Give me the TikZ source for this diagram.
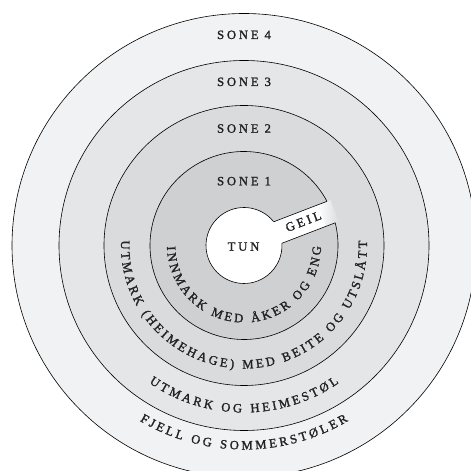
\documentclass[tikz,border=0pt]{standalone}
\usepackage{fontspec}
\newfontfamily\lab{Liberation Serif}[LetterSpace=22, FakeBold=1.5]
\newfontfamily\labc{Liberation Serif}[FakeBold=1.5]
\definecolor{zfour}{HTML}{F1F2F3}
\definecolor{zthree}{HTML}{E5E6E8}
\definecolor{ztwo}{HTML}{DADBDD}
\definecolor{zone}{HTML}{CFD0D2}
\definecolor{ink}{HTML}{222222}
\newcommand\labfont{\lab\fontsize{12.7}{15}\selectfont}
\newcommand\labcurve{\labc\fontsize{12.7}{15}\selectfont}
\tikzset{
  ring/.style={draw=black, line width=0.6pt},
  zlabel/.style={font=\labfont, text=ink, inner sep=0pt, anchor=base},
  arcchar/.style={font=\labcurve, text=ink, inner sep=0pt, anchor=base}
}
\newcommand\placechar[3]{\node[arcchar, rotate=#1+90] at (#1:#2pt) {#3};}
\ExplSyntaxOn
\dim_new:N \l__arc_total_dim
\dim_new:N \l__arc_pos_dim
\dim_new:N \l__arc_w_dim
\box_new:N \l__arc_box
\tl_new:N \g__arc_cmds_tl
\cs_new_protected:Npn \__arc_measure:n #1
  {
    \hbox_set:Nn \l__arc_box { \labcurve #1 }
    \dim_set:Nn \l__arc_w_dim { \box_wd:N \l__arc_box }
  }
% prepare outside the picture: radius (number, pt), gap (dim), text
\NewDocumentCommand \arcprep { m m m }
  {
    \dim_zero:N \l__arc_total_dim
    \str_map_inline:nn {#3}
      {
        \__arc_measure:n {##1}
        \dim_add:Nn \l__arc_total_dim { \l__arc_w_dim + #2 }
      }
    \dim_sub:Nn \l__arc_total_dim {#2}
    \dim_zero:N \l__arc_pos_dim
    \str_map_inline:nn {#3}
      {
        \__arc_measure:n {##1}
        \str_if_eq:nnF {##1} {~}
          {
            \tl_gput_right:Nx \g__arc_cmds_tl
              {
                \exp_not:N \placechar
                { \fp_eval:n { 270 - ( \dim_to_fp:n { \l__arc_total_dim } / 2
                  - \dim_to_fp:n { \l__arc_pos_dim + \l__arc_w_dim / 2 } ) / (#1) * 180 / pi } }
                {#1} { \exp_not:n {##1} }
              }
          }
        \dim_add:Nn \l__arc_pos_dim { \l__arc_w_dim + #2 }
      }
  }
\NewDocumentCommand \arcdraw { } { \tl_use:N \g__arc_cmds_tl }
\ExplSyntaxOff
\begin{document}
\arcprep{77}{2.7pt}{INNMARK MED ÅKER OG ENG}%
\arcprep{123}{2.7pt}{UTMARK (HEIMEHAGE) MED BEITE OG UTSLÅTT}%
\arcprep{167}{2.8pt}{UTMARK OG HEIMESTØL}%
\arcprep{204}{2.8pt}{FJELL OG SOMMERSTØLER}%
\begin{tikzpicture}
\useasboundingbox (0,0) rectangle (471pt,471pt);
\clip (0,0) rectangle (471pt,471pt);
\begin{scope}[shift={(244pt,225.5pt)}]
\coordinate (C) at (0,0);
% zone fills
\fill[zfour] (C) circle[radius=232pt];
\draw[ring] (C) circle[radius=232pt];
\fill[zthree] (C) circle[radius=185pt];
\draw[ring] (C) circle[radius=185pt];
\fill[ztwo] (C) circle[radius=140pt];
\draw[ring] (C) circle[radius=140pt];
\fill[zone] (C) circle[radius=94pt];
% geil strip
\begin{scope}[rotate=21]
  \fill[white] (0pt,-11.5pt) rectangle (84pt,11.5pt);
  \shade[left color=white, right color=ztwo] (84pt,-11.5pt) rectangle (97pt,11.5pt);
  \draw[ring] (36.2pt,11.5pt) -- (93.3pt,11.5pt);
  \draw[ring] (36.2pt,-11.5pt) -- (93.3pt,-11.5pt);
\end{scope}
\node[zlabel, anchor=center, rotate=21] (geil) at (22:64pt) {GEIL};
% tun
\fill[white] (C) circle[radius=38pt];
\draw[ring] ([shift={(38.6:38pt)}]C) arc[start angle=38.6, end angle=363.4, radius=38pt];
\draw[ring] ([shift={(28.03:94pt)}]C) arc[start angle=28.03, end angle=373.97, radius=94pt];
% straight labels
\node[zlabel] (tun) at (-0.5pt,-5.2pt) {TUN};
\node[zlabel] (sone1) at (0pt,60.2pt) {SONE 1};
\node[zlabel] (sone2) at (0pt,112.8pt) {SONE 2};
\node[zlabel] (sone3) at (0pt,159.5pt) {SONE 3};
\node[zlabel] (sone4) at (0pt,206.5pt) {SONE 4};
% curved labels
\arcdraw
\end{scope}
\end{tikzpicture}
\end{document}
